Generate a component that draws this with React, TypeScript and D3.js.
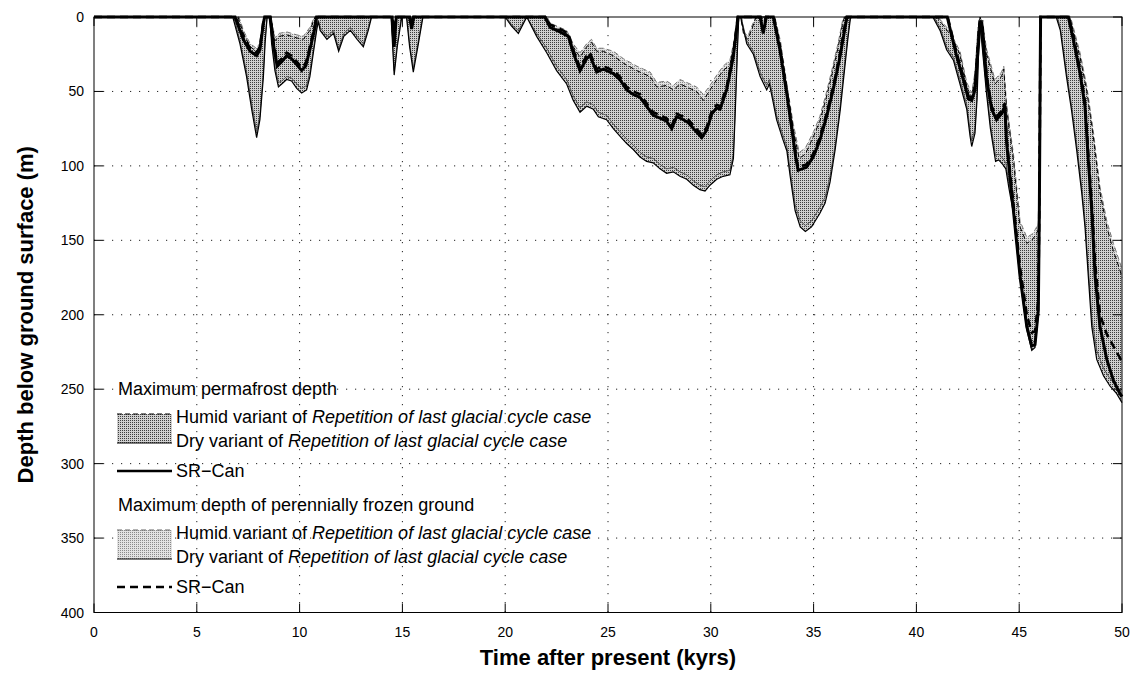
import React from "react";
import * as d3 from "d3";

type Pt = [number, number];

// [time after present (kyrs), depth (m)]
const permHumid: Pt[] = [
  [0, 0], [7.0, 0], [7.3, 12], [7.6, 20], [7.9, 23], [8.1, 19], [8.25, 4], [8.3, 0],
  [8.6, 0], [8.8, 16], [9.0, 13], [9.37, 12], [9.86, 14], [10.18, 15], [10.5, 9], [10.75, 0],
  [14.5, 0], [14.6, 15], [14.7, 0], [15.3, 0], [15.45, 6], [15.6, 0],
  [22.0, 0], [22.18, 5], [22.66, 9], [22.99, 11], [23.31, 20], [23.64, 27], [23.96, 20], [24.2, 17], [24.45, 23],
  [24.77, 23], [25.26, 26], [25.75, 31], [26.4, 36], [26.72, 38], [27.05, 40], [27.37, 47], [27.85, 46], [28.18, 49],
  [28.5, 45], [28.83, 47], [29.31, 50], [29.64, 56], [29.96, 49], [30.29, 42], [30.6, 36], [30.93, 32], [31.15, 18], [31.3, 0],
  [31.45, 0], [31.6, 12], [31.8, 15], [32.0, 8], [32.2, 0], [33.1, 0], [33.4, 20], [33.7, 48], [34.0, 75], [34.3, 95],
  [34.6, 92], [35.0, 80], [35.3, 70], [35.6, 55], [35.9, 38], [36.2, 20], [36.4, 5], [36.5, 0],
  [41.0, 0], [41.6, 11], [42.12, 25], [42.45, 47], [42.69, 54], [42.85, 40], [43.0, 8], [43.1, 0], [43.2, 5], [43.42, 25],
  [43.82, 45], [44.14, 40], [44.25, 35], [44.39, 62], [44.72, 96], [45.04, 141], [45.37, 152], [45.61, 150], [45.77, 147],
  [45.93, 143], [45.98, 100], [46.01, 40], [46.04, 0],
  [47.45, 0], [47.96, 27], [48.28, 49], [48.6, 80], [48.93, 118], [49.26, 141], [49.58, 157], [49.9, 170], [50, 175],
];

const permDry: Pt[] = [
  [0, 0], [6.75, 0], [7.1, 18], [7.42, 40], [7.67, 62], [7.91, 81], [8.07, 69], [8.24, 40], [8.32, 18], [8.42, 0],
  [8.55, 0], [8.64, 18], [8.8, 36], [8.97, 47], [9.13, 45], [9.37, 42], [9.61, 43], [9.86, 48], [10.1, 51], [10.34, 49],
  [10.5, 40], [10.67, 24], [10.83, 9], [10.91, 3],
  [11.0, 9], [11.33, 15], [11.65, 11], [11.9, 23], [12.15, 13], [12.47, 9], [12.8, 15], [13.1, 20], [13.34, 9], [13.5, 0],
  [14.45, 0], [14.6, 39], [14.75, 20], [14.97, 0], [15.2, 0], [15.35, 20], [15.53, 37], [15.75, 20], [16.0, 0],
  [20.0, 0], [20.3, 6], [20.64, 11], [20.9, 4], [21.05, 0], [21.53, 13], [22.02, 24], [22.5, 36], [22.99, 45], [23.31, 56],
  [23.64, 64], [23.96, 60], [24.29, 62], [24.53, 67], [24.93, 69], [25.26, 75], [25.58, 80], [25.91, 85], [26.23, 89],
  [26.56, 94], [26.88, 97], [27.2, 98], [27.53, 102], [27.85, 105], [28.18, 104], [28.5, 107], [28.83, 109], [29.15, 113],
  [29.47, 116], [29.72, 117], [29.96, 113], [30.29, 109], [30.6, 107], [30.93, 106], [31.1, 95], [31.2, 60], [31.3, 20], [31.36, 0],
  [31.45, 0], [31.75, 18], [32.07, 25], [32.4, 40], [32.72, 49], [32.85, 45], [33.0, 55], [33.2, 69], [33.5, 82], [33.7, 90],
  [33.86, 107], [34.1, 130], [34.35, 141], [34.6, 144], [34.9, 141], [35.3, 132], [35.56, 125], [35.8, 111], [36.05, 89],
  [36.3, 62], [36.5, 36], [36.68, 13], [36.8, 0],
  [40.8, 0], [41.15, 9], [41.47, 22], [41.8, 29], [42.12, 45], [42.45, 62], [42.61, 80], [42.69, 87], [42.85, 78], [42.95, 55],
  [43.05, 12], [43.1, 4], [43.2, 20], [43.4, 50], [43.6, 75], [43.85, 97], [44.0, 96], [44.2, 99], [44.35, 102], [44.5, 115],
  [44.72, 132], [45.04, 176], [45.37, 210], [45.61, 224], [45.77, 222], [45.93, 200], [45.98, 130], [46.01, 50], [46.04, 0],
  [46.8, 0], [47.0, 9], [47.3, 40], [47.55, 63], [47.8, 90], [48.04, 118], [48.2, 141], [48.36, 174], [48.53, 208],
  [48.77, 230], [49.1, 241], [49.42, 248], [49.74, 253], [50, 259],
];

const permSRCan: Pt[] = [
  [0, 0], [6.86, 0], [7.26, 15], [7.59, 23], [7.91, 26], [8.07, 22], [8.24, 4], [8.3, 0],
  [8.56, 0], [8.72, 18], [8.91, 33], [9.13, 30], [9.37, 26], [9.61, 28], [9.86, 32], [10.1, 36], [10.3, 33], [10.5, 22],
  [10.75, 7], [10.83, 0],
  [14.5, 0], [14.6, 20], [14.7, 0], [15.35, 0], [15.45, 8], [15.55, 0],
  [21.93, 0], [22.18, 7], [22.66, 10], [23.07, 13], [23.31, 24], [23.64, 36], [23.96, 28], [24.12, 26], [24.45, 37],
  [24.77, 35], [25.26, 38], [25.58, 42], [25.91, 49], [26.23, 52], [26.56, 54], [26.88, 60], [27.2, 66], [27.53, 68],
  [27.85, 70], [28.1, 75], [28.34, 67], [28.67, 69], [28.91, 71], [29.23, 76], [29.56, 81], [29.8, 76], [30.05, 65],
  [30.29, 61], [30.45, 62], [30.77, 49], [31.09, 27], [31.33, 0],
  [32.4, 0], [32.55, 11], [32.7, 0], [33.04, 0], [33.36, 22], [33.69, 51], [33.93, 74], [34.15, 96], [34.25, 103],
  [34.65, 101], [34.98, 94], [35.3, 83], [35.63, 67], [35.95, 49], [36.28, 27], [36.57, 4], [36.63, 0],
  [41.5, 0], [41.95, 26], [42.28, 42], [42.53, 55], [42.69, 56], [42.85, 49], [43.1, 4], [43.18, 4], [43.42, 42],
  [43.66, 62], [43.9, 69], [44.14, 65], [44.3, 60], [44.39, 85], [44.72, 130], [45.04, 174], [45.37, 208], [45.61, 221],
  [45.77, 220], [45.93, 197], [45.98, 130], [46.01, 62], [46.04, 0],
  [47.39, 0], [47.63, 15], [47.96, 38], [48.2, 60], [48.36, 96], [48.53, 130], [48.69, 174], [48.93, 208], [49.26, 230],
  [49.58, 244], [49.9, 253], [50, 255],
];

const frozenHumid: Pt[] = [
  [0, 0], [7.05, 0], [7.3, 10], [7.6, 18], [7.9, 21], [8.1, 17], [8.25, 3], [8.3, 0],
  [8.62, 0], [8.8, 14], [9.0, 11], [9.37, 10], [9.86, 12], [10.18, 13], [10.5, 7], [10.72, 0],
  [14.52, 0], [14.6, 13], [14.68, 0], [15.32, 0], [15.45, 5], [15.58, 0],
  [22.05, 0], [22.18, 4], [22.66, 7], [22.99, 9], [23.31, 18], [23.64, 24], [23.96, 18], [24.2, 15], [24.45, 21],
  [24.77, 21], [25.26, 23], [25.75, 28], [26.4, 33], [26.72, 35], [27.05, 37], [27.37, 44], [27.85, 43], [28.18, 46],
  [28.5, 42], [28.83, 44], [29.31, 47], [29.64, 52], [29.96, 46], [30.29, 39], [30.6, 33], [30.93, 29], [31.15, 15], [31.28, 0],
  [31.5, 0], [31.6, 10], [31.8, 13], [32.0, 6], [32.18, 0], [33.12, 0], [33.4, 17], [33.7, 45], [34.0, 71], [34.3, 91],
  [34.6, 88], [35.0, 77], [35.3, 67], [35.6, 52], [35.9, 35], [36.2, 17], [36.4, 3], [36.48, 0],
  [41.05, 0], [41.6, 9], [42.12, 23], [42.45, 44], [42.69, 51], [42.85, 37], [43.0, 6], [43.08, 0], [43.2, 3], [43.42, 22],
  [43.82, 42], [44.14, 37], [44.25, 33], [44.39, 59], [44.72, 92], [45.04, 137], [45.37, 148], [45.61, 146], [45.77, 143],
  [45.93, 139], [45.98, 96], [46.01, 36], [46.04, 0],
  [47.5, 0], [47.96, 24], [48.28, 46], [48.6, 76], [48.93, 114], [49.26, 137], [49.58, 152], [49.9, 165], [50, 170],
];

const frozenDry: Pt[] = [
  [0, 0], [6.8, 0], [7.1, 16], [7.42, 37], [7.67, 58], [7.91, 77], [8.07, 66], [8.24, 37], [8.32, 15], [8.42, 0],
  [8.58, 0], [8.64, 15], [8.8, 33], [8.97, 44], [9.13, 43], [9.37, 40], [9.61, 41], [9.86, 45], [10.1, 48], [10.34, 46],
  [10.5, 37], [10.67, 22], [10.83, 7], [10.91, 2],
  [11.0, 7], [11.33, 13], [11.65, 9], [11.9, 21], [12.15, 11], [12.47, 7], [12.8, 13], [13.1, 18], [13.34, 7], [13.48, 0],
  [14.47, 0], [14.6, 36], [14.75, 18], [14.95, 0], [15.22, 0], [15.35, 18], [15.53, 34], [15.75, 18], [15.98, 0],
  [20.05, 0], [20.3, 5], [20.64, 9], [20.9, 3], [21.05, 0], [21.53, 11], [22.02, 21], [22.5, 33], [22.99, 42], [23.31, 53],
  [23.64, 61], [23.96, 57], [24.29, 59], [24.53, 64], [24.93, 66], [25.26, 72], [25.58, 77], [25.91, 82], [26.23, 86],
  [26.56, 91], [26.88, 94], [27.2, 95], [27.53, 99], [27.85, 102], [28.18, 101], [28.5, 104], [28.83, 106], [29.15, 110],
  [29.47, 113], [29.72, 114], [29.96, 110], [30.29, 106], [30.6, 104], [30.93, 103], [31.1, 92], [31.2, 57], [31.3, 18], [31.35, 0],
  [31.47, 0], [31.75, 16], [32.07, 23], [32.4, 37], [32.72, 46], [32.85, 42], [33.0, 52], [33.2, 66], [33.5, 79], [33.7, 87],
  [33.86, 103], [34.1, 126], [34.35, 137], [34.6, 140], [34.9, 137], [35.3, 128], [35.56, 121], [35.8, 107], [36.05, 86],
  [36.3, 59], [36.5, 33], [36.68, 11], [36.78, 0],
  [40.85, 0], [41.15, 7], [41.47, 20], [41.8, 27], [42.12, 42], [42.45, 59], [42.61, 76], [42.69, 83], [42.85, 75], [42.95, 52],
  [43.05, 10], [43.1, 3], [43.2, 18], [43.4, 47], [43.6, 72], [43.85, 93], [44.0, 92], [44.2, 95], [44.35, 98], [44.5, 111],
  [44.72, 128], [45.04, 171], [45.37, 205], [45.61, 219], [45.77, 217], [45.93, 196], [45.98, 127], [46.01, 48], [46.04, 0],
  [46.85, 0], [47.0, 7], [47.3, 37], [47.55, 60], [47.8, 86], [48.04, 114], [48.2, 137], [48.36, 169], [48.53, 202],
  [48.77, 224], [49.1, 236], [49.42, 243], [49.74, 248], [50, 254],
];

const frozenSRCan: Pt[] = [
  [0, 0], [6.88, 0], [7.26, 13], [7.59, 21], [7.91, 24], [8.07, 20], [8.24, 3], [8.28, 0],
  [8.58, 0], [8.72, 16], [8.91, 31], [9.13, 28], [9.37, 24], [9.61, 26], [9.86, 30], [10.1, 34], [10.3, 31], [10.5, 20],
  [10.75, 5], [10.81, 0],
  [14.52, 0], [14.6, 18], [14.68, 0], [15.37, 0], [15.45, 6], [15.53, 0],
  [21.95, 0], [22.18, 5], [22.66, 8], [23.07, 11], [23.31, 22], [23.64, 34], [23.96, 26], [24.12, 24], [24.45, 35],
  [24.77, 33], [25.26, 36], [25.58, 40], [25.91, 47], [26.23, 50], [26.56, 52], [26.88, 58], [27.2, 64], [27.53, 66],
  [27.85, 68], [28.1, 73], [28.34, 65], [28.67, 67], [28.91, 69], [29.23, 74], [29.56, 79], [29.8, 74], [30.05, 63],
  [30.29, 59], [30.45, 60], [30.77, 47], [31.09, 25], [31.31, 0],
  [32.42, 0], [32.55, 9], [32.68, 0], [33.06, 0], [33.36, 20], [33.69, 49], [33.93, 72], [34.15, 94], [34.25, 101],
  [34.65, 99], [34.98, 92], [35.3, 81], [35.63, 65], [35.95, 47], [36.28, 25], [36.55, 3], [36.6, 0],
  [41.52, 0], [41.95, 24], [42.28, 40], [42.53, 53], [42.69, 54], [42.85, 47], [43.08, 3], [43.2, 3], [43.42, 40],
  [43.66, 60], [43.9, 67], [44.14, 63], [44.3, 58], [44.39, 82], [44.72, 126], [45.04, 168], [45.37, 200], [45.61, 212],
  [45.77, 211], [45.93, 190], [45.98, 125], [46.01, 60], [46.04, 0],
  [47.42, 0], [47.63, 13], [47.96, 35], [48.2, 57], [48.36, 92], [48.53, 125], [48.69, 165], [48.93, 200], [49.26, 213],
  [49.58, 221], [49.9, 229], [50, 232],
];

const xTicks = [0, 5, 10, 15, 20, 25, 30, 35, 40, 45, 50];
const yTicks = [0, 50, 100, 150, 200, 250, 300, 350, 400];
const italicCase = "Repetition of last glacial cycle case";

const W = 1134;
const H = 678;
const FONT = "'Liberation Sans', Arial, Helvetica, sans-serif";

export default function App() {
  const x = d3.scaleLinear().domain([0, 50]).range([94, 1122]);
  const y = d3.scaleLinear().domain([0, 400]).range([17, 612.5]);
  const line = d3.line<Pt>().x(d => x(d[0])).y(d => y(d[1]));
  const band = (top: Pt[], bottom: Pt[]) => line([...bottom, ...top.slice().reverse()]) + "Z";

  const [x0, x1] = x.range();
  const [y0, y1] = y.range();
  const tickLen = 9;

  const legendRow = (
    yTop: number,
    title: string,
    fill: string,
    humidStroke: string,
    srDash: string | undefined
  ) => {
    const sx0 = 117, sx1 = 172, tx = 176;
    const r1 = yTop + 28, r2 = yTop + 52, r3 = yTop + 82;
    return (
      <g>
        <text x={118} y={yTop + 6} fontSize={18}>{title}</text>
        <rect x={sx0} y={r1 - 3} width={sx1 - sx0} height={r2 - r1 + 5} fill={fill} />
        <line x1={sx0} x2={sx1} y1={r1 - 3} y2={r1 - 3} stroke={humidStroke} strokeWidth={1} strokeDasharray="5,3" />
        <line x1={sx0} x2={sx1} y1={r2 + 2} y2={r2 + 2} stroke="#000" strokeWidth={1.2} />
        <line x1={sx0} x2={sx1} y1={r3} y2={r3} stroke="#000" strokeWidth={2.6} strokeDasharray={srDash} />
        <text x={tx} y={r1 + 6} fontSize={18}>
          Humid variant of <tspan fontStyle="italic">{italicCase}</tspan>
        </text>
        <text x={tx} y={r2 + 6} fontSize={18}>
          Dry variant of <tspan fontStyle="italic">{italicCase}</tspan>
        </text>
        <text x={tx} y={r3 + 6} fontSize={18}>SR−Can</text>
      </g>
    );
  };

  return (
    <svg width={W} height={H} style={{ position: "absolute", left: 0, top: 0, background: "#fff" }} fontFamily={FONT}>
      <defs>
        <pattern id="permStip" width={2} height={2} patternUnits="userSpaceOnUse">
          <rect width={2} height={2} fill="#cfcfcf" />
          <rect width={1} height={1} fill="#3c3c3c" />
        </pattern>
        <pattern id="frozStip" width={2} height={2} patternUnits="userSpaceOnUse">
          <rect width={2} height={2} fill="#e2e2e2" />
          <rect width={1} height={1} fill="#8a8a8a" />
        </pattern>
      </defs>
      <rect width={W} height={H} fill="#fff" />

      {/* grid */}
      <g stroke="#222" strokeWidth={1} strokeDasharray="1.2,7.8">
        {xTicks.slice(1, -1).map(t => (
          <line key={"gx" + t} x1={x(t)} x2={x(t)} y1={y0} y2={y1} />
        ))}
        {yTicks.slice(1, -1).map(t => (
          <line key={"gy" + t} x1={x0} x2={x1} y1={y(t)} y2={y(t)} />
        ))}
      </g>

      {/* bands */}
      <path d={band(frozenHumid, frozenDry)} fill="url(#frozStip)" />
      <path d={band(permHumid, permDry)} fill="url(#permStip)" />

      {/* lines */}
      <path d={line(frozenHumid) || ""} fill="none" stroke="#777" strokeWidth={1} strokeDasharray="5,3" />
      <path d={line(frozenDry) || ""} fill="none" stroke="#555" strokeWidth={1} />
      <path d={line(permHumid) || ""} fill="none" stroke="#000" strokeWidth={1} strokeDasharray="5,3" />
      <path d={line(permDry) || ""} fill="none" stroke="#000" strokeWidth={1.2} />
      <path d={line(frozenSRCan) || ""} fill="none" stroke="#000" strokeWidth={2.6} strokeDasharray="8,5" />
      <path d={line(permSRCan) || ""} fill="none" stroke="#000" strokeWidth={3} />

      {/* frame and ticks */}
      <rect x={x0} y={y0} width={x1 - x0} height={y1 - y0} fill="none" stroke="#000" strokeWidth={1} />
      <g stroke="#000" strokeWidth={1}>
        {xTicks.map(t => (
          <g key={"tx" + t}>
            <line x1={x(t)} x2={x(t)} y1={y1} y2={y1 - tickLen} />
            <line x1={x(t)} x2={x(t)} y1={y0} y2={y0 + tickLen} />
          </g>
        ))}
        {yTicks.map(t => (
          <g key={"ty" + t}>
            <line x1={x0} x2={x0 + tickLen} y1={y(t)} y2={y(t)} />
            <line x1={x1} x2={x1 - tickLen} y1={y(t)} y2={y(t)} />
          </g>
        ))}
      </g>
      <g fontSize={14} fill="#000">
        {xTicks.map(t => (
          <text key={"lx" + t} x={x(t)} y={637} textAnchor="middle">{t}</text>
        ))}
        {yTicks.map(t => (
          <text key={"ly" + t} x={84} y={y(t) + 5} textAnchor="end">{t}</text>
        ))}
      </g>
      <text x={(x0 + x1) / 2} y={665} textAnchor="middle" fontSize={22} fontWeight="bold">
        Time after present (kyrs)
      </text>
      <text
        transform={`translate(33,${(y0 + y1) / 2}) rotate(-90)`}
        textAnchor="middle"
        fontSize={22}
        fontWeight="bold"
      >
        Depth below ground surface (m)
      </text>

      {/* legend */}
      {legendRow(389, "Maximum permafrost depth", "url(#permStip)", "#000", undefined)}
      {legendRow(505, "Maximum depth of perennially frozen ground", "url(#frozStip)", "#666", "8,5")}
    </svg>
  );
}
